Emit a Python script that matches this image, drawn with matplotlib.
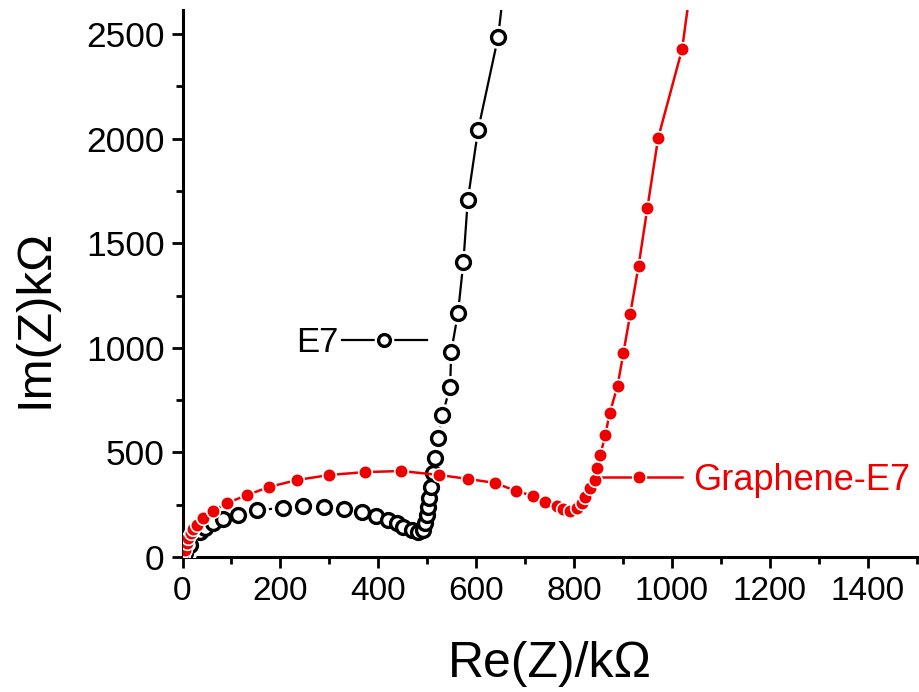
import matplotlib
matplotlib.use("Agg")
import matplotlib.pyplot as plt
from matplotlib.ticker import MultipleLocator
from matplotlib.legend_handler import HandlerTuple

plt.rcParams['font.family'] = ['Liberation Sans', 'DejaVu Sans']

# E7 (open black circles)
e7_re = [2, 5, 15, 36, 46, 62, 83, 113, 152, 206, 247, 289, 330, 367, 396, 420, 439,
         451, 470, 482, 492, 496, 500, 502, 504, 508, 512, 516, 523, 531, 547, 549,
         563, 574, 583, 604, 645, 668]
e7_im = [6, 19, 57, 120, 139, 163, 182, 201, 225, 234, 244, 239, 229, 215, 196, 177, 163,
         143, 129, 120, 129, 163, 201, 239, 282, 335, 402, 473, 569, 679, 813, 980,
         1166, 1410, 1707, 2041, 2486, 2950]

# Graphene-E7 (filled red circles)
ge_re = [2, 5, 9, 11, 17, 21, 30, 42, 62, 91, 132, 177, 234, 300, 373, 447, 525, 584,
         639, 682, 717, 741, 766, 778, 792, 807, 817, 823, 833, 842, 848, 854, 864,
         873, 889, 901, 915, 932, 950, 972, 1021, 1046]
ge_im = [8, 33, 67, 91, 115, 134, 153, 186, 220, 258, 296, 335, 368, 392, 406, 411, 392, 373,
         354, 315, 292, 263, 244, 229, 220, 234, 258, 287, 330, 368, 425, 488, 583,
         688, 817, 975, 1162, 1391, 1668, 2003, 2428, 2860]

x_ticks = [0, 200, 400, 600, 800, 1000, 1200, 1400]
y_ticks = [0, 500, 1000, 1500, 2000, 2500]

fig = plt.figure(figsize=(9.19, 6.92), dpi=100)
ax = fig.add_axes([182.5 / 919, (692 - 557) / 692, 734 / 919, 547 / 692])

red = '#ee0000'
# E7
l_e7, = ax.plot(e7_re, e7_im, '-', color='black', lw=1.6, zorder=2)
h_e7, = ax.plot(e7_re, e7_im, 'o', ls='none', ms=15.5, mfc='white', mec='white', zorder=3)
m_e7, = ax.plot(e7_re, e7_im, 'o', ls='none', ms=10, mfc='white', mec='black', mew=2.4, zorder=4)
# Graphene-E7
l_ge, = ax.plot(ge_re, ge_im, '-', color=red, lw=1.8, zorder=5)
m_ge, = ax.plot(ge_re, ge_im, 'o', ls='none', ms=9.8, mfc=red, mec='white', mew=1.2, zorder=6)

ax.set_xlim(0, 1500)
ax.set_ylim(0, 2615)
ax.set_xticks(x_ticks)
ax.set_yticks(y_ticks)
ax.xaxis.set_minor_locator(MultipleLocator(100))
ax.yaxis.set_minor_locator(MultipleLocator(250))

for s in ['top', 'right']:
    ax.spines[s].set_visible(False)
for s in ['left', 'bottom']:
    ax.spines[s].set_linewidth(2.2)

ax.tick_params(which='major', direction='out', length=8, width=2, pad=5)
ax.tick_params(which='minor', direction='out', length=5, width=2)
ax.tick_params(axis='x', which='major', labelsize=24, pad=6)
ax.tick_params(axis='y', which='major', labelsize=25.5)

ax.set_xlabel('Re(Z)/k\u03a9', fontsize=36)
ax.set_ylabel('Im(Z)k\u03a9', fontsize=35.5)
ax.xaxis.set_label_coords((550 - 182.5) / 734, -(641 - 557) / 547)
ax.yaxis.set_label_coords(-(182.5 - 58) / 734, (557 - 318) / 547)

leg1 = ax.legend(handles=[(l_e7, h_e7, m_e7)], labels=['E7'], markerfirst=False,
                 frameon=False, loc='center left', fontsize=25, handlelength=2.45,
                 handletextpad=0.1, borderpad=0, borderaxespad=0, markerscale=0.85,
                 handler_map={tuple: HandlerTuple(ndivide=1)},
                 bbox_to_anchor=(296 / 919, 1 - 343 / 692), bbox_transform=fig.transFigure)
ax.add_artist(leg1)
leg2 = ax.legend(handles=[(l_ge, m_ge)], labels=['Graphene-E7'], markerfirst=True,
                 frameon=False, loc='center left', fontsize=26, handlelength=2.35,
                 handletextpad=0.3, borderpad=0, borderaxespad=0, markerscale=1.0,
                 handler_map={tuple: HandlerTuple(ndivide=1)},
                 bbox_to_anchor=(597 / 919, 1 - 480 / 692), bbox_transform=fig.transFigure)
for t in leg2.get_texts():
    t.set_color(red)

fig.savefig('out.png', dpi=100)
